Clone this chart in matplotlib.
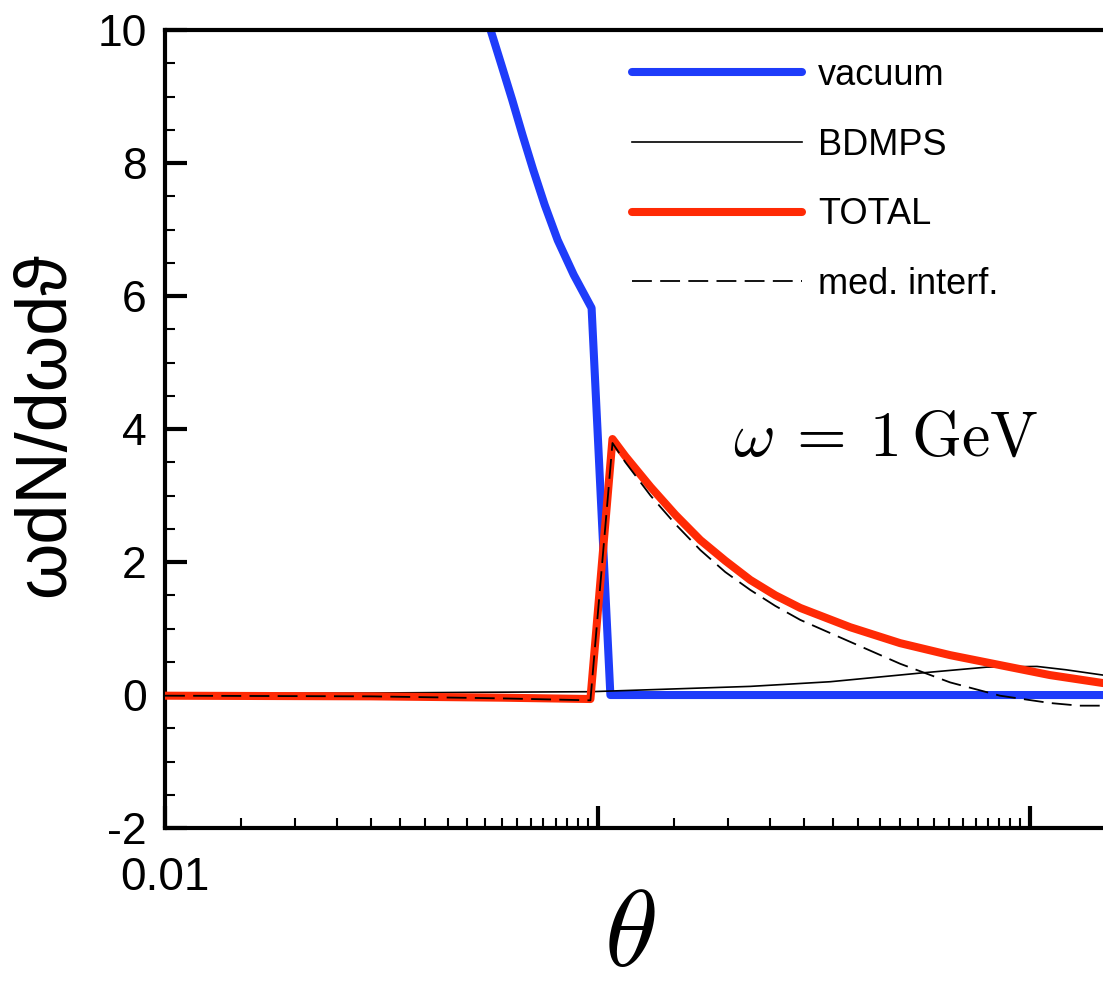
import numpy as np
import matplotlib
matplotlib.use("Agg")
import matplotlib.pyplot as plt
from matplotlib.ticker import MultipleLocator, FixedLocator, FixedFormatter, NullFormatter

plt.rcParams['font.family'] = ['Liberation Sans', 'DejaVu Sans']
plt.rcParams['mathtext.fontset'] = 'cm'
plt.rcParams['axes.unicode_minus'] = False

# vacuum spectrum (goes off the top of the plot on the left)
vac_theta = [0.050, 0.0566, 0.0600, 0.0635, 0.0671, 0.0710, 0.0755, 0.0809, 0.0881, 0.0969, 0.1071, 1.475]
vac_val = [11.1, 10.0, 9.47, 8.95, 8.42, 7.90, 7.37, 6.84, 6.32, 5.82, 0.0, 0.0]

# BDMPS medium induced part
bdmps_theta = [0.01, 0.03, 0.05, 0.0963, 0.2256, 0.3452, 0.557, 0.7957, 1.038, 1.21, 1.475]
bdmps_val = [0.02, 0.03, 0.04, 0.05, 0.13, 0.20, 0.33, 0.42, 0.43, 0.38, 0.30]

# total
tot_theta = [0.01, 0.03, 0.06, 0.0963, 0.1083, 0.1160, 0.1326, 0.1514, 0.1729, 0.1974,
             0.2256, 0.2577, 0.2943, 0.3839, 0.5010, 0.6535, 0.8525, 1.1122, 1.475]
tot_val = [-0.01, -0.02, -0.04, -0.06, 3.85, 3.59, 3.13, 2.71, 2.33, 2.02,
           1.73, 1.50, 1.31, 1.02, 0.78, 0.60, 0.45, 0.30, 0.18]

# medium interference term
int_theta = [0.01, 0.03, 0.06, 0.0963, 0.1083, 0.1160, 0.1326, 0.1514, 0.1729, 0.1974,
             0.2256, 0.2577, 0.2943, 0.3839, 0.5010, 0.6535, 0.8525, 1.1122, 1.30, 1.475]
int_val = [-0.01, -0.02, -0.05, -0.08, 3.79, 3.50, 3.0, 2.57, 2.18, 1.85,
           1.58, 1.34, 1.13, 0.80, 0.47, 0.19, -0.01, -0.12, -0.16, -0.16]

y_ticks = [-2, 0, 2, 4, 6, 8, 10]
x_ticks = [0.01, 0.1, 1]
x_ticklabels = ['0.01', '', '']

fig = plt.figure(figsize=(11.03, 9.92), dpi=100)
ax = fig.add_axes([0.1496, 0.1653, 0.8504, 0.8044])

ax.plot(vac_theta, vac_val, color='#1e3cfa', lw=5.8, label='vacuum', zorder=2, solid_capstyle='round')
ax.plot(bdmps_theta, bdmps_val, color='black', lw=1.2, label='BDMPS', zorder=3)
ax.plot(tot_theta, tot_val, color='#ff2a05', lw=5.8, label='TOTAL', zorder=4, solid_capstyle='round')
ax.plot(int_theta, int_val, color='black', lw=1.3, ls=(0, (11, 4.6)), label='med. interf.', zorder=5)

ax.set_xscale('log')
ax.set_xlim(0.01, 1.475)
ax.set_ylim(-2, 10)

# axes styling
for s in ['left', 'bottom', 'top']:
    ax.spines[s].set_linewidth(3)
ax.spines['right'].set_visible(False)

# minor ticks every half unit inside each decade
minor_x = [m * 10.0 ** e for e in (-2, -1, 0) for m in np.arange(1.5, 10, 0.5)]
ax.xaxis.set_major_locator(FixedLocator(x_ticks))
ax.xaxis.set_major_formatter(FixedFormatter(x_ticklabels))
ax.xaxis.set_minor_locator(FixedLocator(minor_x))
ax.xaxis.set_minor_formatter(NullFormatter())
ax.set_yticks(y_ticks)
ax.yaxis.set_minor_locator(MultipleLocator(0.5))

ax.tick_params(which='both', direction='in', top=False, right=False, labelsize=32)
ax.tick_params(which='major', length=16, width=3)
ax.tick_params(which='minor', length=7, width=1.5)
ax.tick_params(axis='x', which='major', pad=20, labelsize=33)
ax.tick_params(axis='y', which='major', pad=13)

fig.text(46 / 1103, 1 - 425 / 992, 'ωdN/dωdϑ', rotation=90, ha='center', va='center', fontsize=52)
fig.text(630 / 1103, 1 - 988 / 992, r'$\theta$', ha='center', va='bottom', fontsize=78)

ax.text(0.6055, 0.467, r'$\omega\:=\:1\,\mathrm{GeV}$', transform=ax.transAxes, fontsize=46,
        va='baseline', ha='left')

ax.legend(loc='upper left', bbox_to_anchor=(0.498, 0.965), frameon=False, fontsize=26,
          handlelength=4.7, handletextpad=0.45, labelspacing=0.96, borderpad=0, borderaxespad=0)

fig.savefig('out.png', dpi=100)
